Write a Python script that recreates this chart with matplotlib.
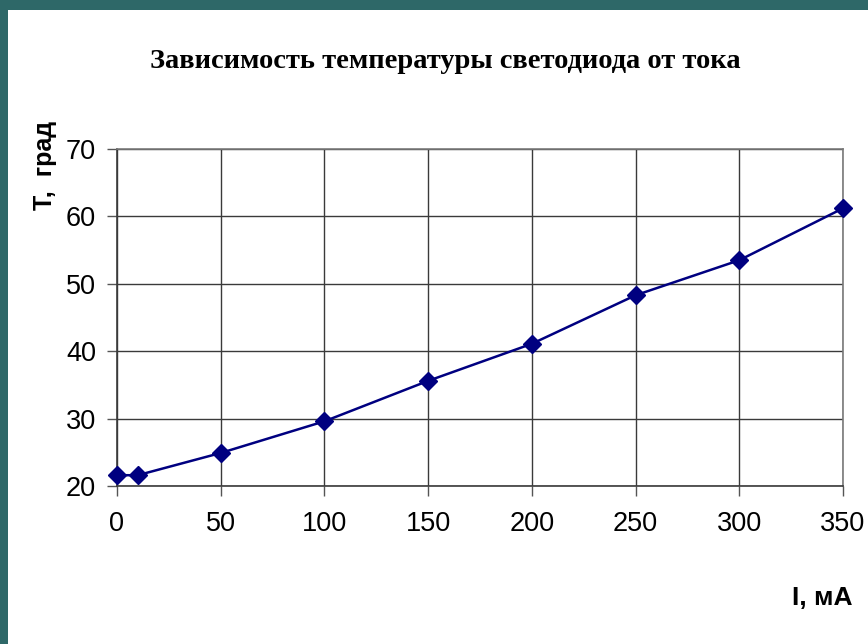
import matplotlib
matplotlib.use("Agg")
import matplotlib.pyplot as plt
from matplotlib.patches import Rectangle

# данные: ток (мА) и температура (град)
current_ma = [0, 10, 50, 100, 150, 200, 250, 300, 350]
temp_deg = [21.6, 21.6, 24.9, 29.6, 35.6, 41.1, 48.3, 53.5, 61.2]
x_ticks = [0, 50, 100, 150, 200, 250, 300, 350]
y_ticks = [20, 30, 40, 50, 60, 70]

sans = ['Liberation Sans', 'DejaVu Sans']

fig = plt.figure(figsize=(8.68, 6.44), dpi=100, facecolor='#2e6868')
# белый фон слайда
fig.patches.append(Rectangle((8 / 868, 0), 1, 1 - 10 / 644, transform=fig.transFigure,
                             facecolor='white', edgecolor='none', zorder=-5))

ax = fig.add_axes([117 / 868, 1 - 486 / 644, 726 / 868, 337 / 644])
ax.set_zorder(2)
ax.plot(current_ma, temp_deg, color='#000080', lw=1.8, marker='D', ms=9.5, mfc='#000080',
        mec='#000080', clip_on=False, zorder=3)

ax.set_xlim(0, 350)
ax.set_ylim(20, 70)
ax.set_xticks(x_ticks)
ax.set_yticks(y_ticks)
ax.grid(True, color='#3a3a3a', lw=1)
for s in ax.spines.values():
    s.set_color('#7a7a7a')
    s.set_linewidth(1.2)
ax.spines['left'].set_color('#3a3a3a')
ax.spines['bottom'].set_color('#3a3a3a')
ax.tick_params(axis='both', direction='out', length=7, width=1, color='#555555')
ax.tick_params(axis='x', pad=11)
ax.tick_params(axis='y', pad=8)
for lab in ax.get_xticklabels() + ax.get_yticklabels():
    lab.set_family(sans)
    lab.set_fontsize(19.5)

fig.text(445 / 868, 1 - 61 / 644, 'Зависимость температуры светодиода от тока',
         ha='center', va='center', fontsize=20.5, fontweight='bold',
         family=['Liberation Serif', 'DejaVu Serif'])
fig.text(45 / 868, 1 - 165 / 644, 'Т,  град', rotation=90, ha='center', va='center',
         fontsize=18, fontweight='bold', family=sans)
fig.text(822 / 868, 1 - 598 / 644, 'I, мА', ha='center', va='center',
         fontsize=19, fontweight='bold', family=sans)

fig.savefig('out.png', dpi=100, facecolor=fig.get_facecolor())
